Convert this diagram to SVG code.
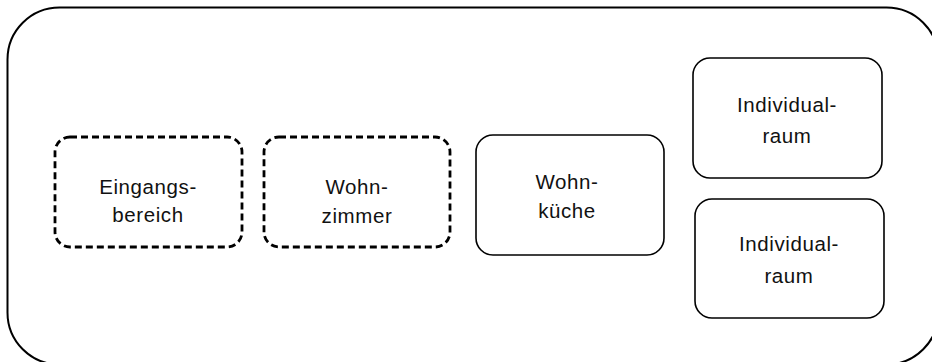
<svg xmlns="http://www.w3.org/2000/svg" width="932" height="362" viewBox="0 0 932 362">
<style>
.outer{fill:none;stroke:#000;stroke-width:2}
.box{fill:#fff;stroke:#000;stroke-width:1.6}
.dash{fill:#fff;stroke:#000;stroke-width:2.8;stroke-dasharray:7 4}
text{font-family:"Liberation Sans",Arial,sans-serif;font-size:20.5px;fill:#111;text-anchor:middle;letter-spacing:0.6px}
</style>
<rect id="outer" class="outer" x="7.5" y="7.5" width="931" height="357" rx="52" ry="52"/>
<g id="connectors"/>
<g id="eingangsbereich">
<rect class="dash" x="55" y="137" width="187" height="110" rx="15"/>
<text x="148" y="194">Eingangs-</text>
<text x="148" y="222">bereich</text>
</g>
<g id="wohnzimmer">
<rect class="dash" x="264" y="137" width="186" height="110" rx="15"/>
<text x="357" y="194">Wohn-</text>
<text x="357" y="223">zimmer</text>
</g>
<g id="wohnkueche">
<rect class="box" x="476" y="135" width="188" height="120" rx="17"/>
<text x="567" y="189">Wohn-</text>
<text x="567" y="218">küche</text>
</g>
<g id="individualraum1">
<rect class="box" x="693" y="58" width="189" height="120" rx="17"/>
<text x="787" y="112">Individual-</text>
<text x="787" y="143">raum</text>
</g>
<g id="individualraum2">
<rect class="box" x="695" y="199" width="189" height="119" rx="17"/>
<text x="789" y="251">Individual-</text>
<text x="789" y="283">raum</text>
</g>
</svg>
